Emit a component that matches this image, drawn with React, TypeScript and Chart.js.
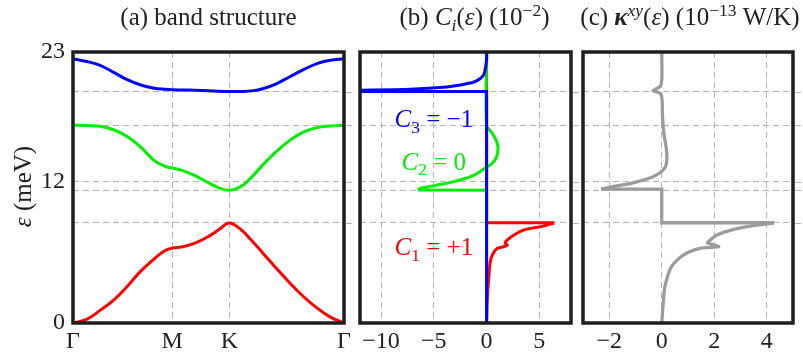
import React, { useEffect, useRef } from "react";
import { Chart, registerables } from "chart.js";

Chart.register(...registerables);

// ---------- shared energy axis ----------
const energyLabelTicks = [0, 12, 23];
const energyGridLines = [8.49, 11.26, 12, 16.78, 19.64];
const energyAllTicks = [0, 8.49, 11.26, 12, 16.78, 19.64, 23];

// ---------- (a) band structure ----------
const kTickPositions = [0, 0.366, 0.577, 1];
const kTickLabels = ["Γ", "M", "K", "Γ"];
const kPath = [0, 0.05, 0.1, 0.15, 0.2, 0.25, 0.3, 0.34, 0.366, 0.4, 0.45, 0.5, 0.54, 0.577, 0.62, 0.66, 0.7, 0.75, 0.8, 0.85, 0.9, 0.95, 1];
const band1 = [0, 0.3, 1.07, 1.95, 3.1, 4.4, 5.45, 6.15, 6.35, 6.45, 6.78, 7.35, 7.95, 8.49, 7.92, 6.98, 5.95, 4.65, 3.4, 2.25, 1.28, 0.5, 0];
const band2 = [16.78, 16.76, 16.69, 16.4, 15.83, 14.92, 13.78, 13.3, 13.16, 12.97, 12.5, 11.9, 11.45, 11.26, 11.58, 12.4, 13.4, 14.55, 15.5, 16.2, 16.58, 16.72, 16.78];
const band3 = [22.43, 22.2, 21.87, 21.27, 20.65, 20.2, 19.93, 19.84, 19.8, 19.78, 19.76, 19.72, 19.66, 19.64, 19.65, 19.7, 19.88, 20.3, 20.9, 21.5, 22.02, 22.3, 22.43];

// ---------- (b) C_i(ε) (10^-2) ----------
const chernTicks = [-10, -5, 0, 5];
const chernTickLabels = ["−10", "−5", "0", "5"];
const c3CurveX = [0, 0, -0.08, -0.25, -0.6, -1.2, -2.5, -4.1, -7.2, -11.7, -14];
const c3CurveY = [23, 22.4, 21.8, 21.1, 20.75, 20.45, 20.2, 20.0, 19.84, 19.76, 19.74];
const c3LineX = [-14, 0, 0];
const c3LineY = [19.66, 19.64, 0];
const c2CurveX = [0, 0, 0.54, 0.95, 1.08, 0.95, 0.54, 0.06, -0.7, -1.52, -3.1, -4.7, -6.3, -6.5];
const c2CurveY = [23, 16.78, 16.1, 15.4, 14.83, 14.1, 13.56, 13.27, 12.8, 12.42, 12.0, 11.7, 11.42, 11.3];
const c2LineX = [-6.5, 0, 0];
const c2LineY = [11.28, 11.26, 0];
const c1LineX = [0, 0, 6.4];
const c1LineY = [23, 8.51, 8.51];
const c1CurveX = [6.4, 5.14, 3.55, 2.6, 1.97, 1.75, 1.97, 1.6, 1.02, 0.54, 0.32, 0.22, 0.12, 0.04, 0];
const c1CurveY = [8.49, 8.18, 7.9, 7.47, 7.05, 6.78, 6.6, 6.47, 6.34, 5.77, 5.07, 3.93, 2.8, 1.4, 0];
const chernLabels = ["C3", "C2", "C1"];
const chernValues = ["−1", "0", "+1"];
const chernLabelX = [-5, -5, -5];
const chernLabelY = [16.6, 13.0, 5.77];

// ---------- (c) κ^xy(ε) (10^-13 W/K) ----------
const kappaTicks = [-2, 0, 2, 4];
const kappaTickLabels = ["−2", "0", "2", "4"];
const kTopX = [0, 0, -0.07, -0.33, -0.1, 0, 0.03, 0.08, 0.18, 0.18, 0.06, -0.33, -1.1, -1.73, -2.31];
const kTopY = [23, 20.6, 20.06, 19.72, 19.55, 19.2, 17.5, 16.1, 14.7, 13.56, 13.0, 12.42, 11.9, 11.63, 11.36];
const kMidX = [-2.31, 0, 0, 4.28];
const kMidY = [11.36, 11.36, 8.51, 8.51];
const kLowX = [4.28, 3.38, 2.74, 2.1, 1.85, 1.75, 2.17, 1.46, 0.82, 0.37, 0.12, 0.05, 0];
const kLowY = [8.49, 8.23, 7.95, 7.47, 7.05, 6.8, 6.47, 6.34, 5.77, 4.78, 3.08, 1.5, 0];

// ---------- styling ----------
const FAM = "'Liberation Serif','Times New Roman',serif";
const FS = 24;
const TXT = "#222";
const GRID = "#b4b4b4";
const RED = "#ff0000";
const GREEN = "#00ee00";
const BLUE = "#0000ff";
const GRAY = "#9c9c9c";

type Seg = { t: string; it?: boolean; bold?: boolean; sub?: boolean; sup?: boolean };

function drawRich(ctx: CanvasRenderingContext2D, segs: Seg[], x: number, y: number, size: number, color: string) {
  const parts = segs.map((s) => {
    const sz = s.sub || s.sup ? size * 0.7 : size;
    const font = `${s.it ? "italic " : ""}${s.bold ? "bold " : ""}${sz}px ${FAM}`;
    ctx.font = font;
    return { s, font, w: ctx.measureText(s.t).width, dy: s.sub ? size * 0.22 : s.sup ? -size * 0.38 : 0 };
  });
  const total = parts.reduce((a, p) => a + p.w, 0);
  let cx = x - total / 2;
  ctx.save();
  ctx.fillStyle = color;
  ctx.textBaseline = "alphabetic";
  ctx.textAlign = "left";
  for (const p of parts) {
    ctx.font = p.font;
    ctx.fillText(p.s.t, cx, y + p.dy);
    cx += p.w;
  }
  ctx.restore();
}

function pts(xs: number[], ys: number[]) {
  return xs.map((x, i) => ({ x, y: ys[i] }));
}

function lineDs(data: { x: number; y: number }[], color: string, tension: number, width = 3) {
  return {
    data,
    showLine: true,
    borderColor: color,
    backgroundColor: color,
    borderWidth: width,
    pointRadius: 0,
    tension,
    fill: false,
  };
}

function energyAxis(showLabels: boolean, width: number) {
  return {
    type: "linear" as const,
    min: 0,
    max: 23,
    afterBuildTicks: (s: any) => {
      s.ticks = energyAllTicks.map((v) => ({ value: v }));
    },
    afterFit: (s: any) => {
      s.width = width;
    },
    ticks: {
      display: showLabels,
      autoSkip: false,
      padding: 8,
      color: TXT,
      font: { family: FAM, size: FS },
      callback: (v: any) => (energyLabelTicks.includes(v) ? String(v) : ""),
    },
    grid: {
      drawTicks: false,
      lineWidth: 1,
      color: (c: any) => (c.tick && energyGridLines.includes(c.tick.value) ? GRID : "rgba(0,0,0,0)"),
    },
    border: { display: false, dash: [6, 4] },
  };
}

function xAxis(min: number, max: number, tickVals: number[], tickLabels: string[], gridVals: number[]) {
  return {
    type: "linear" as const,
    min,
    max,
    afterBuildTicks: (s: any) => {
      s.ticks = tickVals.map((v) => ({ value: v }));
    },
    afterFit: (s: any) => {
      s.height = 33;
    },
    ticks: {
      autoSkip: false,
      maxRotation: 0,
      padding: 4,
      color: TXT,
      font: { family: FAM, size: FS },
      callback: (v: any) => {
        const i = tickVals.indexOf(v);
        return i >= 0 ? tickLabels[i] : "";
      },
    },
    grid: {
      drawTicks: false,
      lineWidth: 1,
      color: (c: any) => (c.tick && gridVals.includes(c.tick.value) ? GRID : "rgba(0,0,0,0)"),
    },
    border: { display: false, dash: [6, 4] },
  };
}

function framePlugin(extra: (chart: any) => void) {
  return {
    id: "frame",
    afterDatasetsDraw(chart: any) {
      const { ctx, chartArea: a, scales } = chart;
      ctx.save();
      // short outward ticks on the right side at the energy grid levels
      ctx.strokeStyle = GRID;
      ctx.lineWidth = 1;
      energyGridLines.forEach((v) => {
        const y = Math.round(scales.y.getPixelForValue(v)) + 0.5;
        ctx.beginPath();
        ctx.moveTo(a.right + 2, y);
        ctx.lineTo(a.right + 8, y);
        ctx.stroke();
      });
      ctx.strokeStyle = "#1e1e1e";
      ctx.lineWidth = 3.5;
      ctx.strokeRect(a.left, a.top, a.right - a.left, a.bottom - a.top);
      ctx.restore();
    },
    afterDraw(chart: any) {
      extra(chart);
    },
  };
}

function baseOptions(scales: any, padding: any) {
  return {
    responsive: false,
    animation: false as const,
    layout: { padding },
    plugins: { legend: { display: false }, tooltip: { enabled: false }, title: { display: false } },
    events: [] as any[],
    scales,
  };
}

export default function App() {
  const refA = useRef<HTMLCanvasElement>(null);
  const refB = useRef<HTMLCanvasElement>(null);
  const refC = useRef<HTMLCanvasElement>(null);

  useEffect(() => {
    const charts: Chart[] = [];

    // (a)
    charts.push(
      new Chart(refA.current!, {
        type: "scatter",
        data: {
          datasets: [
            lineDs(pts(kPath, band3), BLUE, 0.4),
            lineDs(pts(kPath, band2), GREEN, 0.4),
            lineDs(pts(kPath, band1), RED, 0.4),
          ] as any,
        },
        options: baseOptions(
          {
            x: xAxis(0, 1, kTickPositions, kTickLabels, [kTickPositions[1], kTickPositions[2]]),
            y: energyAxis(true, 73),
          },
          { left: 0, right: 18, top: 52, bottom: 0 }
        ) as any,
        plugins: [
          framePlugin((chart) => {
            const { ctx, chartArea: a } = chart;
            drawRich(ctx, [{ t: "(a) band structure" }], (a.left + a.right) / 2, 25, 25, TXT);
            ctx.save();
            ctx.translate(31, (a.top + a.bottom) / 2 - 1);
            ctx.rotate(-Math.PI / 2);
            drawRich(ctx, [{ t: "ε", it: true }, { t: " (meV)" }], 0, 0, 25, TXT);
            ctx.restore();
          }),
        ],
      })
    );

    // (b)
    charts.push(
      new Chart(refB.current!, {
        type: "scatter",
        data: {
          datasets: [
            lineDs(pts(c3CurveX, c3CurveY), BLUE, 0.3),
            lineDs(pts(c3LineX, c3LineY), BLUE, 0),
            lineDs(pts(c2CurveX, c2CurveY), GREEN, 0.3),
            lineDs(pts(c2LineX, c2LineY), GREEN, 0),
            lineDs(pts(c1LineX, c1LineY), RED, 0),
            lineDs(pts(c1CurveX, c1CurveY), RED, 0.25),
          ] as any,
        },
        options: baseOptions(
          {
            x: xAxis(-12, 8, chernTicks, chernTickLabels, chernTicks),
            y: energyAxis(false, 0),
          },
          { left: 15, right: 14, top: 52, bottom: 0 }
        ) as any,
        plugins: [
          framePlugin((chart) => {
            const { ctx, chartArea: a, scales } = chart;
            drawRich(
              ctx,
              [
                { t: "(b) " },
                { t: "C", it: true },
                { t: "i", it: true, sub: true },
                { t: "(" },
                { t: "ε", it: true },
                { t: ") (10" },
                { t: "−2", sup: true },
                { t: ")" },
              ],
              (a.left + a.right) / 2 + 9,
              25,
              25,
              TXT
            );
            const colors = [BLUE, GREEN, RED];
            chernLabels.forEach((lab, i) => {
              drawRich(
                ctx,
                [{ t: lab[0], it: true }, { t: lab.slice(1), sub: true }, { t: " = " + chernValues[i] }],
                scales.x.getPixelForValue(chernLabelX[i]),
                scales.y.getPixelForValue(chernLabelY[i]),
                25,
                colors[i]
              );
            });
          }),
        ],
      })
    );

    // (c)
    charts.push(
      new Chart(refC.current!, {
        type: "scatter",
        data: {
          datasets: [
            lineDs(pts(kTopX, kTopY), GRAY, 0.3, 3.3),
            lineDs(pts(kMidX, kMidY), GRAY, 0, 3.3),
            lineDs(pts(kLowX, kLowY), GRAY, 0.25, 3.3),
          ] as any,
        },
        options: baseOptions(
          {
            x: xAxis(-3, 5, kappaTicks, kappaTickLabels, kappaTicks),
            y: energyAxis(false, 0),
          },
          { left: 13, right: 10, top: 52, bottom: 0 }
        ) as any,
        plugins: [
          framePlugin((chart) => {
            const { ctx, chartArea: a } = chart;
            drawRich(
              ctx,
              [
                { t: "(c) " },
                { t: "κ", it: true, bold: true },
                { t: "xy", it: true, sup: true },
                { t: "(" },
                { t: "ε", it: true },
                { t: ") (10" },
                { t: "−13", sup: true },
                { t: " W/K)" },
              ],
              (a.left + a.right) / 2 + 2,
              25,
              25,
              TXT
            );
          }),
        ],
      })
    );

    return () => charts.forEach((c) => c.destroy());
  }, []);

  const cv = (left: number, width: number): React.CSSProperties => ({
    position: "absolute",
    left,
    top: 0,
    width,
    height: 356,
  });

  return (
    <div style={{ position: "absolute", left: 0, top: 0, width: 803, height: 356, background: "#fff" }}>
      <canvas ref={refA} width={362} height={356} style={cv(0, 362)} />
      <canvas ref={refB} width={240} height={356} style={cv(345, 240)} />
      <canvas ref={refC} width={233} height={356} style={cv(570, 233)} />
    </div>
  );
}
